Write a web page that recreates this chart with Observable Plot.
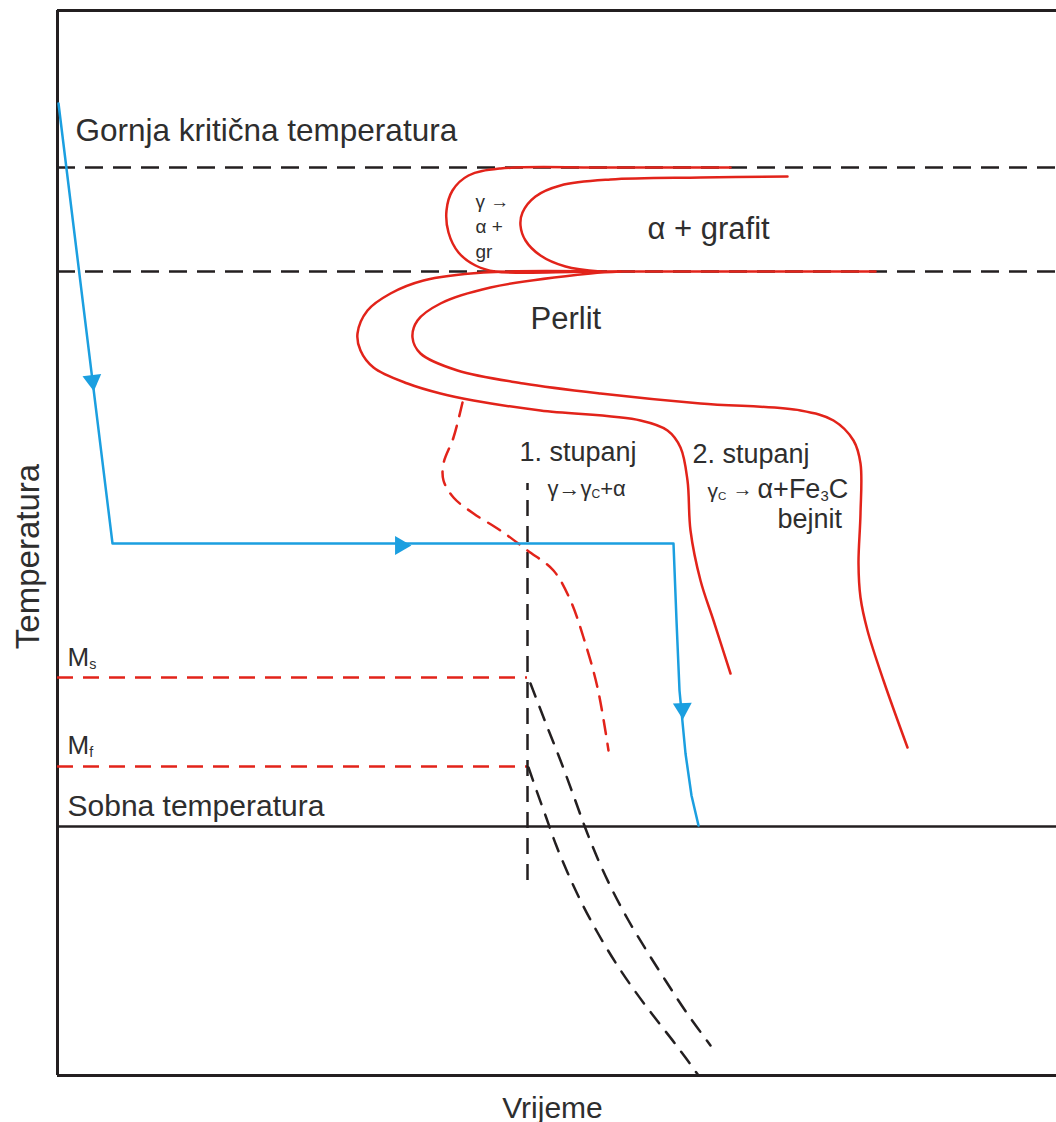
<!DOCTYPE html>
<html>
<head>
<meta charset="utf-8">
<script src="https://cdn.jsdelivr.net/npm/d3@7"></script>
<script src="https://cdn.jsdelivr.net/npm/@observablehq/plot@0.6"></script>
<style>
  html, body { margin: 0; padding: 0; background: #fff; }
  #chart { width: 1056px; height: 1122px; }
</style>
</head>
<body>
<div id="chart"></div>
<script>
// ---- Schematic values (time units, temperature units) ----
// Reference temperature levels
const frameLevels = [0, 1065];
const roomTemp = 249;
const criticalTemps = [908, 804];      // upper / lower critical temperature
const martensiteTemps = [398, 309];    // Ms, Mf
const martensiteTime = 470;            // end of Ms/Mf lines, vertical dashed line
const verticalDashTemps = [195, 592];

// Cooling path (blue)
const coolTime = [1, 55, 616, 619, 622, 628, 634, 641];
const coolTemp = [972, 532, 532, 455, 385, 322, 280, 250];
// Arrow heads on cooling path
const arrowTime = [35, 343, 625];
const arrowTemp = [695, 530, 367];
const arrowAngle = [173, 90, 178];

// Red C-curves (solid)
const graphiteOuterTime = [673, 543, 443, 411, 395, 389, 391, 401, 418, 438, 543, 818];
const graphiteOuterTemp = [908, 908, 907, 900, 885, 865, 843, 823, 810, 804, 804, 804];
const graphiteInnerTime = [730, 643, 553, 503, 478, 465, 463, 468, 483, 508, 543];
const graphiteInnerTemp = [899, 898, 896, 890, 879, 863, 850, 835, 820, 809, 804];
const pearliteOuterTime = [543, 426, 366, 333, 310, 300, 303, 316, 350, 383, 416, 483, 583, 610, 623, 630, 633, 643, 656, 673];
const pearliteOuterTemp = [804, 803, 795, 782, 765, 742, 725, 708, 692, 682, 675, 665, 655, 645, 628, 595, 545, 495, 455, 402];
const pearliteInnerTime = [563, 533, 433, 383, 360, 355, 363, 400, 466, 543, 643, 743, 776, 796, 803, 803, 801, 803, 810, 826, 850];
const pearliteInnerTemp = [804, 802, 788, 772, 755, 738, 722, 705, 692, 682, 672, 665, 655, 635, 612, 562, 512, 478, 445, 395, 328];

// Red dashed curve
const stageOneTime = [405, 396, 386, 386, 396, 416, 443, 470, 496, 513, 526, 540, 551];
const stageOneTemp = [673, 638, 612, 595, 578, 562, 545, 525, 505, 475, 438, 388, 325];

// Black dashed martensite curves
const msCurveTime = [473, 488, 503, 516, 528, 541, 555, 571, 589, 608, 629, 653];
const msCurveTemp = [392, 353, 315, 280, 247, 215, 185, 155, 125, 95, 63, 30];
const mfCurveTime = [471, 479, 488, 498, 510, 524, 540, 558, 577, 598, 619, 641];
const mfCurveTemp = [308, 285, 260, 232, 203, 173, 143, 113, 85, 57, 30, 0];

// Labels
const labelText = [
  "Gornja kritična temperatura", "α + grafit", "Perlit",
  "γ →", "α +", "gr",
  "1. stupanj", "γ→γ_C+α", "2. stupanj",
  "γ_C", "→", "α+Fe_3C", "bejnit",
  "M_s", "M_f", "Sobna temperatura",
  "Vrijeme", "Temperatura"
];
const labelTime = [18, 590, 473, 418, 418, 418, 462, 490, 635, 650, 675, 700, 720, 10, 10, 10, 495, -29];
const labelTemp = [935, 837, 747, 868, 843, 818, 615, 580, 613, 578, 580, 578, 548, 410, 322, 260, -42, 519];

// ---- Build tables ----
const pts = (id, ts, vs) => ts.map((t, i) => ({id, t, v: vs[i]}));
const cooling = pts("cool", coolTime, coolTemp);
const arrows = arrowTime.map((t, i) => ({t, v: arrowTemp[i], a: arrowAngle[i]}));
const redSolid = [
  ...pts("go", graphiteOuterTime, graphiteOuterTemp),
  ...pts("gi", graphiteInnerTime, graphiteInnerTemp),
  ...pts("po", pearliteOuterTime, pearliteOuterTemp),
  ...pts("pi", pearliteInnerTime, pearliteInnerTemp)
];
const redDashed = pts("s1", stageOneTime, stageOneTemp);
const blackCurves = [...pts("ms", msCurveTime, msCurveTemp), ...pts("mf", mfCurveTime, mfCurveTemp)];

const BLACK = "#231f20", RED = "#e2231a", BLUE = "#1b9fe0", TEXT = "#2e2e2e";

function label(i, size, opts = {}) {
  return Plot.text([i], {
    x: d => labelTime[d], y: d => labelTemp[d], text: d => labelText[d],
    fontSize: size, fill: TEXT, textAnchor: "start", lineAnchor: "bottom", ...opts
  });
}

const chart = Plot.plot({
  width: 1056, height: 1122,
  marginLeft: 57, marginRight: 0, marginTop: 10, marginBottom: 47,
  x: {domain: [0, 999], axis: null},
  y: {domain: [0, 1065], axis: null},
  style: {fontFamily: "'Liberation Sans', Arial, sans-serif", background: "#fff", overflow: "visible"},
  marks: [
    // frame and room temperature
    Plot.ruleY(frameLevels, {stroke: BLACK, strokeWidth: 3}),
    Plot.ruleX([0], {y1: 0, y2: 1065, stroke: BLACK, strokeWidth: 3}),
    Plot.ruleY([roomTemp], {stroke: BLACK, strokeWidth: 2.5}),
    // critical temperatures
    Plot.ruleY(criticalTemps, {stroke: BLACK, strokeWidth: 2.5, strokeDasharray: "18,10"}),
    // Ms / Mf
    Plot.ruleY(martensiteTemps, {x1: 0, x2: martensiteTime, stroke: RED, strokeWidth: 2.5, strokeDasharray: "16,10"}),
    Plot.ruleX([martensiteTime], {y1: verticalDashTemps[0], y2: verticalDashTemps[1], stroke: BLACK, strokeWidth: 2.5, strokeDasharray: "16,10"}),
    // black martensite curves
    Plot.line(blackCurves, {x: "t", y: "v", z: "id", stroke: BLACK, strokeWidth: 2.5, strokeDasharray: "14,11", curve: "catmull-rom"}),
    // red curves
    Plot.line(redSolid, {x: "t", y: "v", z: "id", stroke: RED, strokeWidth: 2.5, curve: "catmull-rom"}),
    Plot.line(redDashed, {x: "t", y: "v", z: "id", stroke: RED, strokeWidth: 2.5, strokeDasharray: "14,10", curve: "catmull-rom"}),
    // cooling path
    Plot.line(cooling, {x: "t", y: "v", stroke: BLUE, strokeWidth: 2.5, strokeLinejoin: "round"}),
    Plot.dot(arrows, {x: "t", y: "v", symbol: "triangle", r: 7, fill: BLUE, stroke: "none", rotate: "a"}),
    // labels
    label(0, 31.5),
    label(1, 31),
    label(2, 31),
    label(3, 19), label(4, 19), label(5, 19),
    label(6, 27),
    label(7, 22),
    label(8, 27),
    label(9, 21),
    label(10, 20),
    label(11, 27),
    label(12, 27),
    label(13, 26), label(14, 26),
    label(15, 30),
    label(16, 30, {textAnchor: "middle"}),
    label(17, 33, {textAnchor: "middle", lineAnchor: "middle", rotate: -90})
  ]
});

// subscripts: "X_s" -> X with subscript s
d3.select(chart).selectAll("text").each(function () {
  const el = this;
  const txt = el.textContent;
  if (!txt.includes("_")) return;
  const parts = txt.split(/_(\w)/);
  el.textContent = "";
  parts.forEach((p, i) => {
    if (p === "") return;
    const ts = document.createElementNS("http://www.w3.org/2000/svg", "tspan");
    ts.textContent = p;
    if (i % 2 === 1) {
      ts.setAttribute("font-size", "55%");
      ts.setAttribute("baseline-shift", "-20%");
    }
    el.appendChild(ts);
  });
});

document.getElementById("chart").appendChild(chart);
</script>
</body>
</html>
